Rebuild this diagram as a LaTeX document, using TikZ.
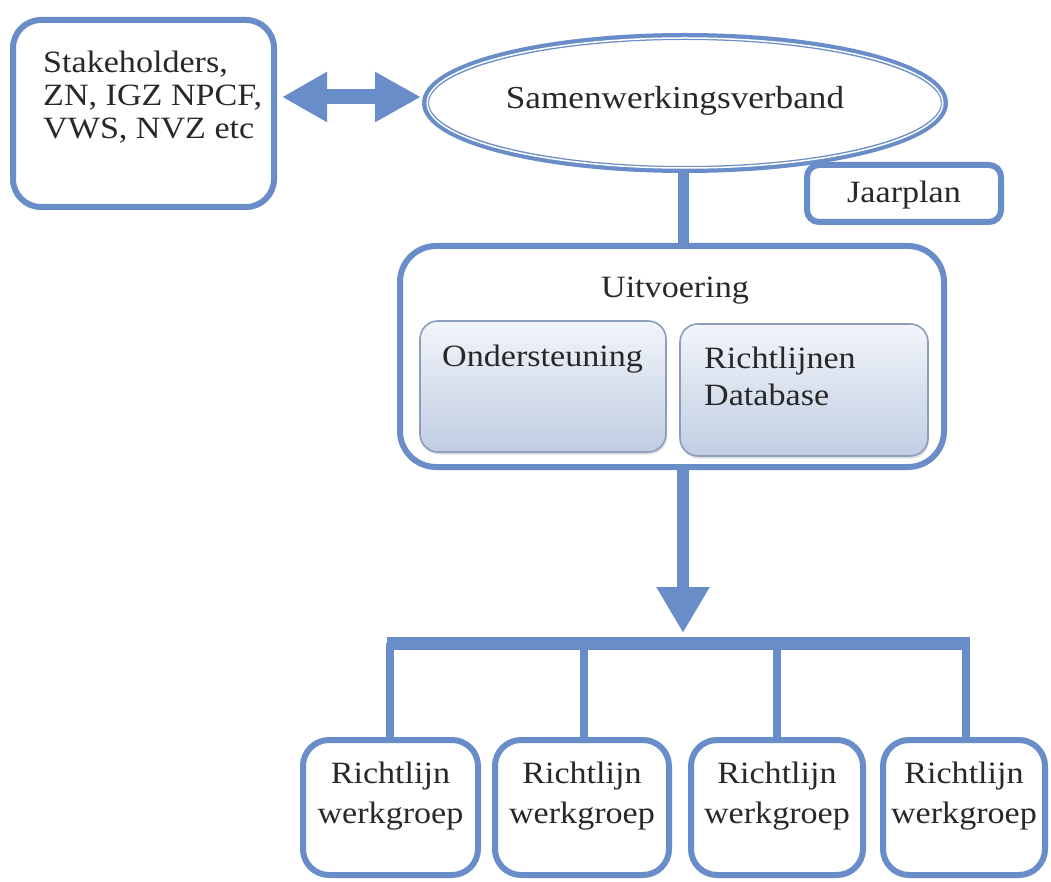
\documentclass[tikz,border=0pt]{standalone}
\usepackage{fontspec}
\setmainfont{Liberation Serif}[FakeStretch=1.1]
\usetikzlibrary{shapes.geometric,arrows.meta,shadows}
\definecolor{frameblue}{RGB}{104,141,200}
\definecolor{inkgrey}{RGB}{40,40,40}
\definecolor{paneltop}{RGB}{242,245,250}
\definecolor{panelbot}{RGB}{192,205,226}
\definecolor{paneledge}{RGB}{140,158,188}
\tikzset{
  x=1pt, y=-1pt,
  every node/.style={text=inkgrey, font=\fontsize{31}{33}\selectfont, inner sep=0pt},
  rbox/.style={draw=frameblue, line width=6pt, fill=white, rounded corners=26pt},
  panel/.style={draw=paneledge, line width=1.6pt, rounded corners=18pt,
    top color=paneltop, bottom color=panelbot,
    drop shadow={opacity=0.25, shadow xshift=1pt, shadow yshift=-2.5pt}},
  wire/.style={draw=frameblue, line width=8pt},
}
\begin{document}
\begin{tikzpicture}
\useasboundingbox (0,0) rectangle (1051,882);
\fill[white] (0,0) rectangle (1051,882);

% partners box
\node[rbox, rounded corners=28pt, minimum width=261pt, minimum height=187pt] (stake) at (143.5,113.5) {};
\node[anchor=north west, align=left] (staketxt) at (43,51)
  {Stakeholders,\\ZN, IGZ NPCF,\\VWS, NVZ etc};

% partnership (double-lined ellipse)
\node[ellipse, draw=frameblue, line width=7pt, fill=white,
  minimum width=519pt, minimum height=133pt] (samen) at (685,103) {};
\draw[white, line width=1.5pt] (samen.center) ellipse [x radius=257.8pt, y radius=65pt];
\node[anchor=base, font=\fontsize{32}{33}\selectfont] (samentxt) at (675,109) {Samenwerkingsverband};

% two-way link
\coordinate (linkL) at (stake.east |- 0,97);
\draw[draw=frameblue, line width=15pt,
  {Triangle[width=47pt,length=45pt]}-{Triangle[width=47pt,length=46pt]},
  shorten <=5pt, shorten >=1pt] (linkL) -- (linkL -| samen.west);

% annual plan tag
\node[rbox, rounded corners=12pt, minimum width=194pt, minimum height=57pt] (jaar) at (904,193.5) {};
\node[anchor=base] (jaartxt) at (jaar.center |- 0,203) {Jaarplan};

% execution block
\node[rbox, rounded corners=36pt, minimum width=544pt, minimum height=221pt] (uit) at (672,356.5) {};
\node[anchor=base] (uittxt) at (675,298) {Uitvoering};
\node[panel, minimum width=246pt, minimum height=131pt] (onder) at (543,386.5) {};
\node[anchor=base west] (ondertxt) at (442,366) {Ondersteuning};
\node[panel, minimum width=248pt, minimum height=132pt] (db) at (804,390) {};
\node[anchor=north west, align=left, font=\fontsize{31}{37}\selectfont] (dbtxt) at (704,347)
  {Richtlijnen\\Database};

\draw[wire, line width=11pt] (samen.south -| 683,0) -- (uit.north -| 683,0);

% working groups
\foreach \i/\cx/\w in {1/390.5/175, 2/582/174, 3/777/172, 4/964/162}{
  \node[rbox, minimum width=\w pt, minimum height=135pt] (wg\i) at (\cx,807.5) {};
  \node[anchor=north, align=center, font=\fontsize{31}{40}\selectfont] (wgt\i) at (\cx,762)
    {Richtlijn\\werkgroep};
}
\coordinate (barL) at (387,643);
\coordinate (barR) at (970,643);
\draw[wire, line width=13pt] (barL) -- (barR);
\foreach \i/\tx in {1/390, 2/584, 3/777, 4/966}{
  \coordinate (tap\i) at (\tx,643);
  \draw[wire, line width=8pt] (tap\i) -- (tap\i |- wg\i.north);
}

% hand-off arrow down to the working groups
\coordinate (arrowtip) at (683,633);
\draw[draw=frameblue, line width=12pt, -{Triangle[width=50pt,length=46pt]}]
  (arrowtip |- uit.south) -- (arrowtip);
\end{tikzpicture}
\end{document}
